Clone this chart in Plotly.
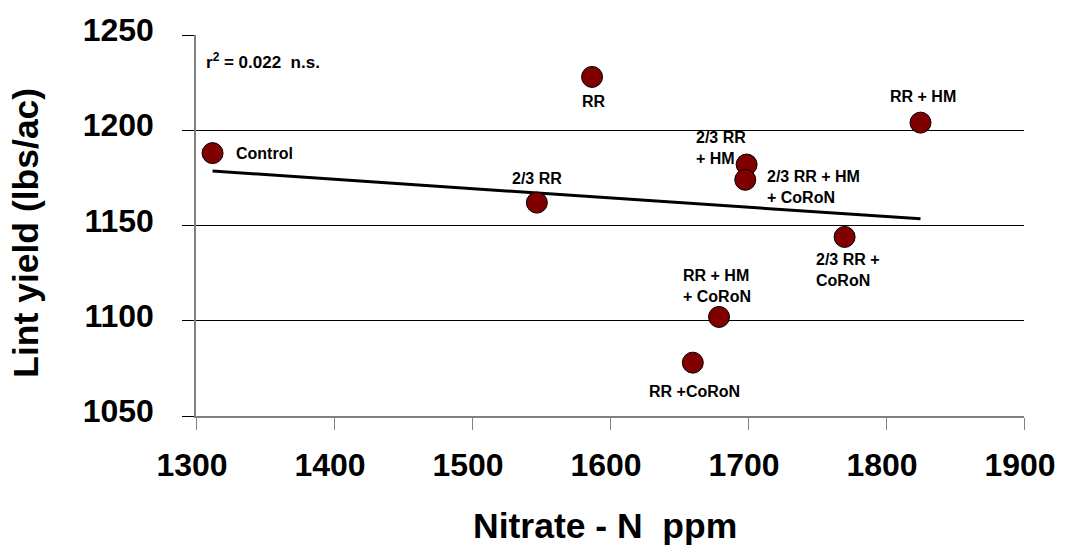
import numpy as np
import plotly.graph_objects as go

# Data
treatments = ["Control", "2/3 RR", "RR", "RR + HM", "2/3 RR + HM",
              "2/3 RR + HM + CoRoN", "2/3 RR + CoRoN", "RR + HM + CoRoN", "RR + CoRoN"]
nitrate_ppm = [1312, 1547, 1587, 1825, 1699, 1698, 1770, 1679, 1660]
lint_yield = [1188, 1162, 1228, 1204, 1182, 1174, 1144, 1102, 1078]
r2_text = "0.022"

# Label text and placement (styling only)
label_text = ["Control", "2/3 RR", "RR", "RR + HM", "2/3 RR<br>+ HM",
              "2/3 RR + HM<br>+ CoRoN", "2/3 RR +<br>CoRoN", "RR + HM<br>+ CoRoN", "RR +CoRoN"]
label_dx = [21, 0, 2, 2, -53, 20, -31, -38, 2]
label_dy = [0, 24, -25, 26, 17, -7, -33, 31, -29]
label_anchor = ["left", "center", "center", "center", "left", "left", "left", "left", "center"]

x_ticks = [1300, 1400, 1500, 1600, 1700, 1800, 1900]
y_ticks = [1050, 1100, 1150, 1200, 1250]

FONT = "Arial, 'Liberation Sans', sans-serif"

slope, intercept = np.polyfit(nitrate_ppm, lint_yield, 1)
x_fit = np.array([min(nitrate_ppm), max(nitrate_ppm)])
y_fit = slope * x_fit + intercept

fig = go.Figure()
fig.add_trace(go.Scatter(x=x_fit, y=y_fit, mode="lines",
                         line=dict(color="black", width=3), hoverinfo="skip", showlegend=False))
fig.add_trace(go.Scatter(x=nitrate_ppm, y=lint_yield, mode="markers", text=treatments,
                         marker=dict(size=21, color="#800000", line=dict(color="black", width=1)),
                         showlegend=False))

annotations = []
for xv, yv, t, dx, dy, anc in zip(nitrate_ppm, lint_yield, label_text, label_dx, label_dy, label_anchor):
    annotations.append(dict(x=xv, y=yv, xref="x", yref="y", text=t, showarrow=False,
                            xanchor=anc, yanchor="middle", align="left" if anc == "left" else "center",
                            xshift=dx, yshift=dy,
                            font=dict(family=FONT, size=16, color="black", weight="bold")))

annotations.append(dict(x=0.01, y=0.933, xref="paper", yref="paper",
                        text="r<sup>2</sup> = " + r2_text + "\u00a0\u00a0n.s.", showarrow=False,
                        xanchor="left", yanchor="middle",
                        font=dict(family=FONT, size=17, color="black", weight="bold")))
annotations.append(dict(x=0.494, y=-0.288, xref="paper", yref="paper",
                        text="Nitrate - N\u00a0\u00a0ppm", showarrow=False,
                        xanchor="center", yanchor="middle",
                        font=dict(family=FONT, size=35.5, color="black", weight="bold")))
annotations.append(dict(x=-0.2055, y=0.4805, xref="paper", yref="paper",
                        text="Lint yield (lbs/ac)", showarrow=False, textangle=-90,
                        xanchor="center", yanchor="middle",
                        font=dict(family=FONT, size=35.5, color="black", weight="bold")))

fig.update_layout(
    width=1068, height=551,
    margin=dict(l=196, r=40, t=31, b=135),
    paper_bgcolor="white", plot_bgcolor="white",
    annotations=annotations,
    xaxis=dict(range=[1300, 1900], tickvals=x_ticks, ticks="outside", ticklen=12,
               tickcolor="#808080", tickwidth=1, showline=True, linecolor="#808080", linewidth=1.5,
               showgrid=False, zeroline=False, ticklabelstandoff=8, ticklabelshift=-4,
               tickfont=dict(family=FONT, size=32, color="black", weight="bold")),
    yaxis=dict(range=[1050, 1250], tickvals=y_ticks, ticks="outside", ticklen=12,
               tickcolor="black", tickwidth=1, showline=True, linecolor="#808080", linewidth=1.5,
               showgrid=True, gridcolor="black", gridwidth=1, zeroline=False,
               ticklabelstandoff=22, ticklabelshift=-5,
               tickfont=dict(family=FONT, size=32, color="black", weight="bold")),
)

fig.write_html("out.html")
